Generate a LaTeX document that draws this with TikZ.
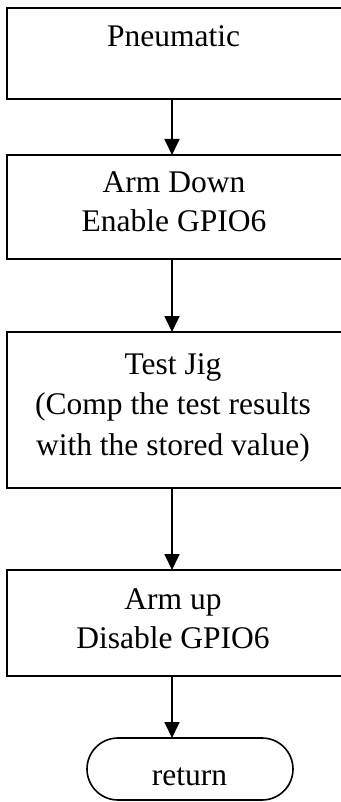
\documentclass[tikz,border=0pt]{standalone}
\usepackage{fontspec}
\setmainfont{Liberation Serif}
\usetikzlibrary{arrows.meta}
\begin{document}
\begin{tikzpicture}[x=1pt,y=-1pt,
  box/.style={draw, line width=1.8pt, minimum width=338pt, inner sep=0pt, outer sep=0pt},
  term/.style={draw, line width=1.6pt, rounded corners=31pt, minimum width=206pt, minimum height=62pt, inner sep=0pt, outer sep=0pt},
  lbl/.style={font=\fontsize{31.5}{38}\selectfont, align=center, inner sep=0pt, anchor=base},
  arr/.style={line width=1.8pt, -{Triangle[length=16pt,width=15pt]}}]
\useasboundingbox (0,0) rectangle (340,802);
\fill[white] (0,0) rectangle (340,802);
\coordinate (ax) at (172,0);
% boxes
\node[box, minimum height=91pt] (b1) at (176,53.5) {};
\node[box, minimum height=104pt] (b2) at (176,207) {};
\node[box, minimum height=156pt] (b3) at (176,410) {};
\node[box, minimum height=106pt] (b4) at (176,623) {};
\node[term] (t) at (190,769) {};
% labels (anchored at the baseline of the last line)
\node[lbl] (l1) at (173.5,47) {Pneumatic};
\node[lbl, font=\fontsize{31.5}{38}\selectfont] (l2) at (174,231) {Arm Down\\Enable GPIO6};
\node[lbl, font=\fontsize{31.5}{40.5}\selectfont] (l3) at (173,455) {Test Jig\\(Comp the test results\\with the stored value)};
\node[lbl, font=\fontsize{31.5}{39}\selectfont] (l4) at (173,648) {Arm up\\Disable GPIO6};
\node[lbl] (l5) at (189.5,785) {return};
% connectors
\draw[arr] (ax |- b1.south) -- (ax |- b2.north);
\draw[arr] (ax |- b2.south) -- (ax |- b3.north);
\draw[arr] (ax |- b3.south) -- (ax |- b4.north);
\draw[arr] (ax |- b4.south) -- (ax |- t.north);
\end{tikzpicture}
\end{document}
